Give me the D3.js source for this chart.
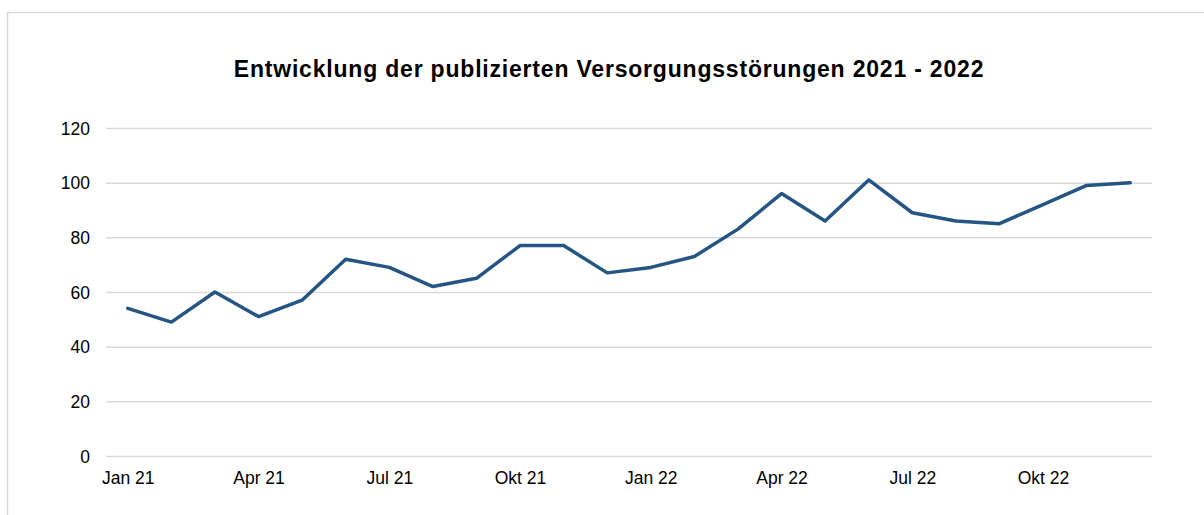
<!DOCTYPE html>
<html>
<head>
<meta charset="utf-8">
<script src="https://cdn.jsdelivr.net/npm/d3@7"></script>
<style>
  body { margin: 0; background: #fff; }
  text { font-family: Arial, "Liberation Sans", sans-serif; fill: #000; }
</style>
</head>
<body>
<div id="chart"></div>
<script>
var months = ["Jan 21", "Feb 21", "Mär 21", "Apr 21", "Mai 21", "Jun 21", "Jul 21", "Aug 21", "Sep 21", "Okt 21", "Nov 21", "Dez 21",
              "Jan 22", "Feb 22", "Mär 22", "Apr 22", "Mai 22", "Jun 22", "Jul 22", "Aug 22", "Sep 22", "Okt 22", "Nov 22", "Dez 22"];
var stoerungen = [54, 49, 60, 51, 57, 72, 69, 62, 65, 77, 77, 67,
                  69, 73, 83, 96, 86, 101, 89, 86, 85, 92, 99, 100];
var yTicks = [0, 20, 40, 60, 80, 100, 120];
var xTickLabels = ["Jan 21", "Apr 21", "Jul 21", "Okt 21", "Jan 22", "Apr 22", "Jul 22", "Okt 22"];
var title = "Entwicklung der publizierten Versorgungsstörungen 2021 - 2022";

var w = 1204;
var h = 515;
var plotLeft = 106, plotRight = 1152, plotTop = 128, plotBottom = 456;

var svg = d3.select("#chart")
  .append("svg")
  .attr("width", w)
  .attr("height", h);

// chart frame
svg.append("rect")
  .attr("x", 7.5)
  .attr("y", 12.5)
  .attr("width", w + 20)
  .attr("height", h + 20)
  .attr("fill", "none")
  .attr("stroke", "#d9d9d9")
  .attr("stroke-width", 1.5);

var xScale = d3.scalePoint()
  .domain(months)
  .range([plotLeft, plotRight])
  .padding(0.5);

var yScale = d3.scaleLinear()
  .domain([0, 120])
  .range([plotBottom, plotTop]);

// gridlines + y labels
var yAxis = d3.axisLeft(yScale)
  .tickValues(yTicks)
  .tickSize(-(plotRight - plotLeft))
  .tickPadding(16);

var gy = svg.append("g")
  .attr("transform", "translate(" + plotLeft + ",0)")
  .call(yAxis);
gy.select(".domain").remove();
gy.selectAll("line").attr("stroke", "#d9d9d9").attr("stroke-width", 1.5);
gy.selectAll("text").style("font-size", "17.5px").attr("dy", "0.35em");

// x labels
var xAxis = d3.axisBottom(xScale)
  .tickValues(xTickLabels)
  .tickSize(0)
  .tickPadding(15.5);

var gx = svg.append("g")
  .attr("transform", "translate(0," + plotBottom + ")")
  .call(xAxis);
gx.select(".domain").remove();
gx.selectAll("text").style("font-size", "17.5px");

// line
var lineGen = d3.line()
  .x(function(d, i) { return xScale(months[i]); })
  .y(function(d) { return yScale(d); });

svg.append("path")
  .attr("d", lineGen(stoerungen))
  .attr("stroke", "#255582")
  .attr("stroke-width", 3.5)
  .attr("stroke-linejoin", "round")
  .attr("stroke-linecap", "round")
  .attr("fill", "none");

// title
svg.append("text")
  .attr("x", 609)
  .attr("y", 77)
  .attr("text-anchor", "middle")
  .style("font-size", "23px")
  .style("font-weight", "bold")
  .style("letter-spacing", "0.8px")
  .text(title);
</script>
</body>
</html>
